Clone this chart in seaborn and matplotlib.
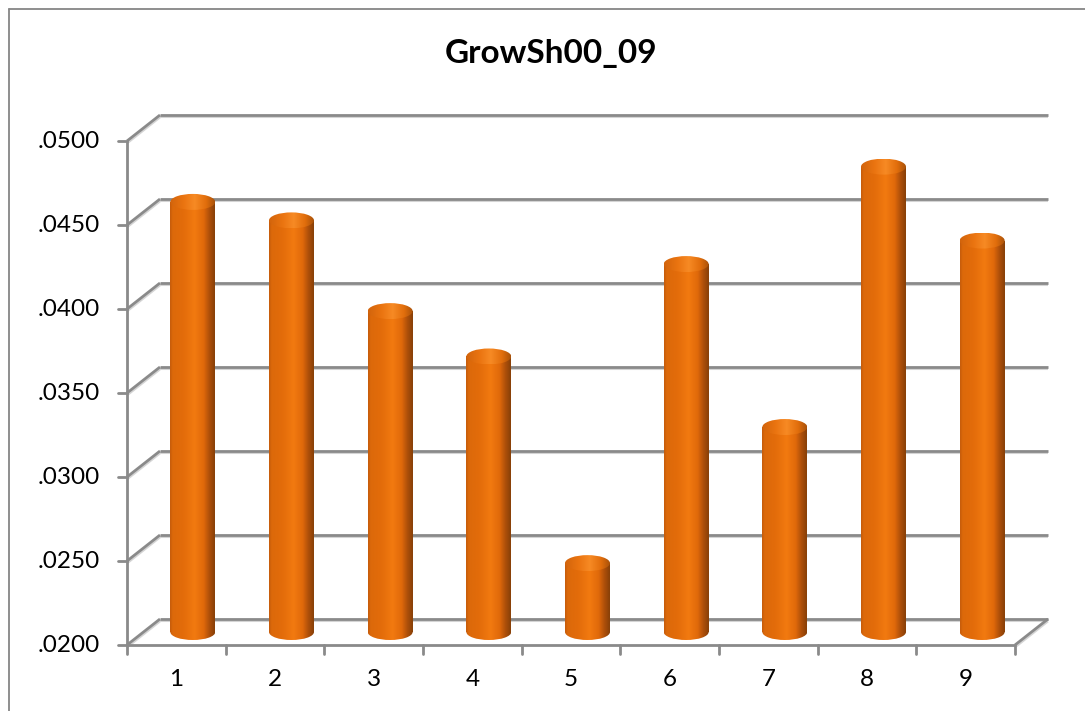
import numpy as np
import matplotlib
matplotlib.use("Agg")
import matplotlib.pyplot as plt
from matplotlib.colors import LinearSegmentedColormap
from matplotlib.patches import Ellipse, Rectangle
from matplotlib.lines import Line2D
import seaborn as sns

# ---- data ----
categories = ["1", "2", "3", "4", "5", "6", "7", "8", "9"]
values = [0.0456, 0.0445, 0.0391, 0.0364, 0.0241, 0.0419, 0.0322, 0.0477, 0.0433]
y_ticks = [0.0200, 0.0250, 0.0300, 0.0350, 0.0400, 0.0450, 0.0500]
y_tick_labels = [".0200", ".0250", ".0300", ".0350", ".0400", ".0450", ".0500"]
title = "GrowSh00_09"

sns.set_style("white")
plt.rcParams["font.family"] = ["Lato", "DejaVu Sans"]

W, H, DPI = 1085, 711, 100
fig = plt.figure(figsize=(W / DPI, H / DPI), dpi=DPI)
fig.patch.set_facecolor("white")

# mid-depth plane geometry (pixels)
left_px, right_px = 143.5, 1031.5
top_px, bot_px = 128.0, 632.0
ymin, ymax = 0.02, 0.05
px_per_y = (bot_px - top_px) / (ymax - ymin)
extra_px = 30.0  # extend axes downward so cylinder bottoms are not clipped
ylow = ymin - extra_px / px_per_y

ax = fig.add_axes([left_px / W, (H - bot_px - extra_px) / H, (right_px - left_px) / W,
                   (bot_px + extra_px - top_px) / H])
ax.set_facecolor("none")

sns.barplot(x=categories, y=values, color="#e8700a", width=0.456, ax=ax)
ax.set_xlim(-0.5, 8.5)
ax.set_ylim(ylow, ymax)
for s in ax.spines.values():
    s.set_visible(False)
ax.set_xticks([])
ax.set_yticks([])
ax.set_xlabel("")
ax.set_ylabel("")

px_per_x = (right_px - left_px) / 9.0
dxp, dyp = 16.5, 13.0
dx = dxp / px_per_x
dy = dyp / px_per_y

def front(x, y):
    return x - dx, y - dy

def back(x, y):
    return x + dx, y + dy

gcol = "#8a8a8a"
scol = "#d4d4d4"
lw_main = 2.0
lw_sh = 1.5
sh = 2.4 / px_per_y

def gline(p0, p1, z=0.5, shadow=True):
    if shadow:
        ax.plot([p0[0], p1[0]], [p0[1] - sh, p1[1] - sh], color=scol, lw=lw_sh,
                clip_on=False, zorder=z - 0.01, solid_capstyle="butt")
    ax.plot([p0[0], p1[0]], [p0[1], p1[1]], color=gcol, lw=lw_main,
            clip_on=False, zorder=z, solid_capstyle="butt")

for yv in y_ticks:
    gline(back(-0.5, yv), back(8.5, yv), z=0.5)
    gline(front(-0.5, yv), back(-0.5, yv), z=0.5)
gline(front(8.5, ymin), back(8.5, ymin), z=0.6)
gline(front(-0.5, ymin), front(8.5, ymin), z=5, shadow=False)
gline(front(-0.5, ymin), front(-0.5, ymax), z=5, shadow=False)

tick_len_x = 9.0 / px_per_x
tick_len_y = 9.0 / px_per_y
for yv, lab in zip(y_ticks, y_tick_labels):
    fx, fy = front(-0.5, yv)
    ax.plot([fx - tick_len_x, fx], [fy, fy], color=gcol, lw=lw_main, clip_on=False, zorder=5)
    ax.text(fx - 27.0 / px_per_x, fy, lab, ha="right", va="center",
            fontsize=17.5, color="black", clip_on=False)
for i in range(10):
    fx, fy = front(i - 0.5, ymin)
    ax.plot([fx, fx], [fy, fy - tick_len_y], color=gcol, lw=lw_main, clip_on=False, zorder=5)
for i, c in enumerate(categories):
    fx, fy = front(i, ymin)
    ax.text(fx, fy - 35.0 / px_per_y, c, ha="center", va="center", fontsize=17.5,
            color="black", clip_on=False)

body_cmap = LinearSegmentedColormap.from_list("body", [
    (0.0, "#c45b0c"), (0.06, "#dc690a"), (0.3, "#e36c0a"), (0.55, "#f27a10"),
    (0.75, "#e0690a"), (0.88, "#ad4f0a"), (1.0, "#874008")])
cap_cmap = LinearSegmentedColormap.from_list("cap", [
    (0.0, "#d2640c"), (0.3, "#ea7410"), (0.55, "#f78a24"), (0.8, "#e26e0c"), (1.0, "#a9520a")])
grad = np.linspace(0, 1, 256).reshape(1, -1)
ell_h = 16.0 / px_per_y

for p in list(ax.patches):
    x0 = p.get_x()
    w = p.get_width()
    top = p.get_height()
    p.set_y(ymin)
    p.set_height(top - ymin)
    p.set_facecolor("none")
    p.set_edgecolor("none")
    body = Rectangle((x0, ymin), w, top - ymin, facecolor="none", edgecolor="none")
    ax.add_patch(body)
    im = ax.imshow(grad, cmap=body_cmap, aspect="auto", extent=(x0, x0 + w, ymin, top),
                   zorder=2, interpolation="bilinear")
    im.set_clip_path(body)
    be = Ellipse((x0 + w / 2, ymin), w, ell_h, facecolor="none", edgecolor="none")
    ax.add_patch(be)
    im2 = ax.imshow(grad, cmap=body_cmap, aspect="auto",
                    extent=(x0, x0 + w, ymin - ell_h / 2, ymin + 0.0001),
                    zorder=2, interpolation="bilinear")
    im2.set_clip_path(be)
    te = Ellipse((x0 + w / 2, top), w, ell_h, facecolor="none", edgecolor="none")
    ax.add_patch(te)
    im3 = ax.imshow(grad, cmap=cap_cmap, aspect="auto",
                    extent=(x0, x0 + w, top - ell_h / 2, top + ell_h / 2),
                    zorder=2.1, interpolation="bilinear")
    im3.set_clip_path(te)

ax.set_xlim(-0.5, 8.5)
ax.set_ylim(ylow, ymax)

fig.text(551 / W, 1 - 53 / H, title, ha="center", va="center", fontsize=24,
         fontweight="bold", color="black")

fig.add_artist(Line2D([8.5 / W, 8.5 / W], [0, 1 - 8.5 / H], transform=fig.transFigure,
                      color="#868686", lw=1.3))
fig.add_artist(Line2D([8.5 / W, 1], [1 - 8.5 / H, 1 - 8.5 / H], transform=fig.transFigure,
                      color="#868686", lw=1.3))

fig.savefig("out.png", dpi=DPI, facecolor="white")
